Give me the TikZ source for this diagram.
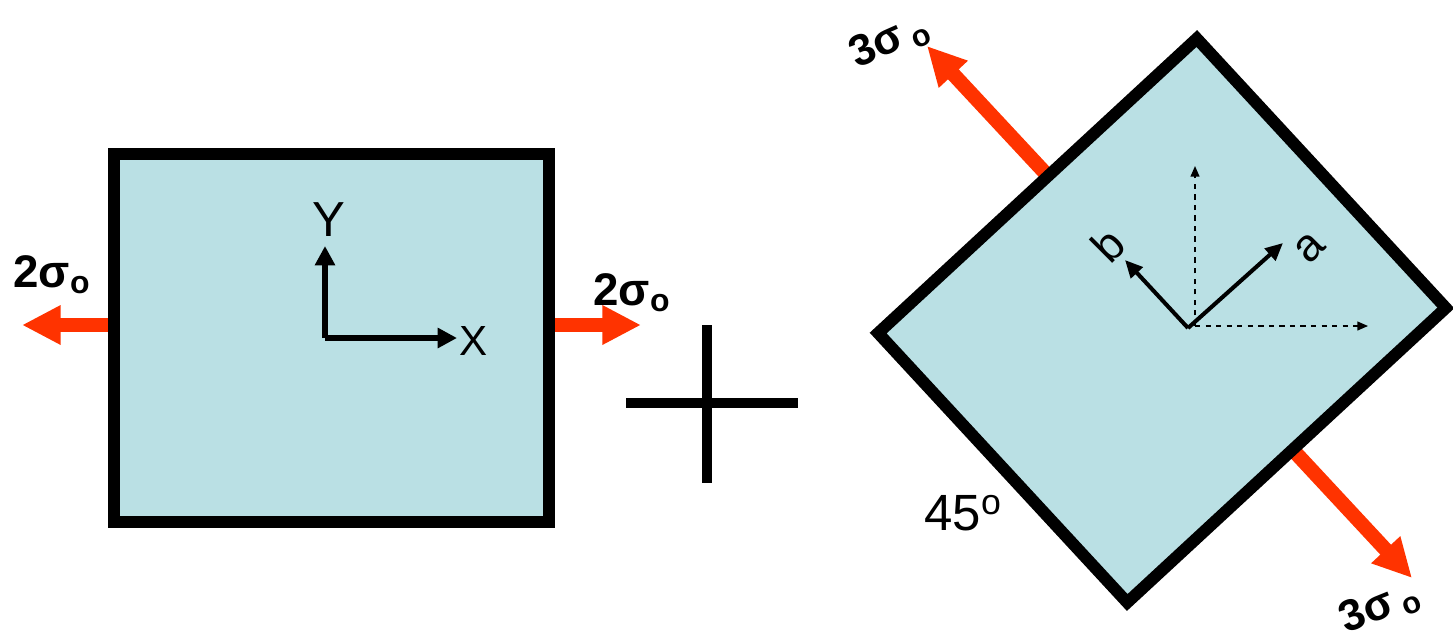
\documentclass[tikz,border=0pt]{standalone}
\usepackage{fontspec}
\setmainfont{Liberation Sans}
\usetikzlibrary{arrows.meta}
\definecolor{platefill}{RGB}{186,224,228}
\definecolor{loadred}{RGB}{255,51,0}
\tikzset{
  plate/.style={draw=black, line width=6.8pt, fill=platefill, inner sep=0pt},
  loadarrow/.style={draw=loadred, line width=8.3pt, -{Triangle[length=22pt,width=21pt]}},
  axisarrow/.style={line width=3pt, -{Triangle[length=11pt,width=11pt]}},
  rotaxis/.style={line width=2.3pt, -{Triangle[length=10pt,width=9pt]}},
  refaxis/.style={line width=0.8pt, dashed, -{Triangle[length=6pt,width=5pt]}},
  crossbar/.style={line width=6pt},
  stresslabel/.style={font=\bfseries\fontsize{26}{30}\selectfont, inner sep=0pt},
  boldstress/.style={font=\bfseries\fontsize{25}{29}\selectfont, inner sep=0pt},
  axislabel/.style={font=\fontsize{28}{32}\selectfont, inner sep=0pt}
}
\begin{document}
\begin{tikzpicture}[x=0.02cm,y=-0.02cm]
  \useasboundingbox (0,0) rectangle (1453,640);
  % load arrows first, the plates cover their ends
  \coordinate (lefttip) at (22,325);
  \coordinate (righttip) at (641,325);
  \coordinate (topstart) at (1048,176);
  \coordinate (toptip) at (927,46);
  \coordinate (botstart) at (1293,450);
  \coordinate (bottip) at (1412,578);
  \draw[loadarrow] (118,325) -- (lefttip);
  \draw[loadarrow] (545,325) -- (righttip);
  \draw[loadarrow] (topstart) -- (toptip);
  \draw[loadarrow] (botstart) -- (bottip);
  % plates
  \node[plate, minimum width=8.7cm, minimum height=7.36cm] (block) at (331.5,338) {};
  \node[plate, rotate=42.75, minimum width=8.68cm, minimum height=7.34cm] (tilted) at (1162,320.5) {};
  % x-y frame
  \coordinate (xyorigin) at (325,338);
  \node[axislabel] (ylab) at (329,220) {Y};
  \node[axislabel, font=\fontsize{24}{28}\selectfont] (xlab) at (474,341) {X};
  \draw[axisarrow] (xyorigin) -- (325,246);
  \draw[axisarrow] (xyorigin) -- (457,338);
  % rotated frame
  \coordinate (reforigin) at (1195,326);
  \coordinate (aborigin) at (1188,328);
  \draw[refaxis] (reforigin) -- (1195,166);
  \draw[refaxis] (reforigin) -- (1368,326);
  \draw[rotaxis] (aborigin) -- (1283,243);
  \draw[rotaxis] (aborigin) -- (1125,260);
  \node[axislabel, font=\fontsize{26}{30}\selectfont, rotate=45] (alab) at (1310,248) {a};
  \node[axislabel, font=\fontsize{26}{30}\selectfont, rotate=45] (blab) at (1108,245) {b};
  % plus sign
  \draw[crossbar] (626,403) -- (798,403);
  \draw[crossbar] (707,325) -- (707,483);
  % labels
  \node[stresslabel, anchor=base west] (leftload) at (13,287) {2σ\textsubscript{o}};
  \node[stresslabel, anchor=base west] (rightload) at (593,305) {2σ\textsubscript{o}};
  \node[axislabel, font=\fontsize{29}{34}\selectfont, anchor=base west] (angle) at (924,530) {45\textsuperscript{o}};
  \node[boldstress, rotate=24] (toplab) at (890,41) {3σ\,\textsubscript{o}};
  \node[boldstress, rotate=22] (botlab) at (1380,607) {3σ\,\textsubscript{o}};
\end{tikzpicture}
\end{document}
